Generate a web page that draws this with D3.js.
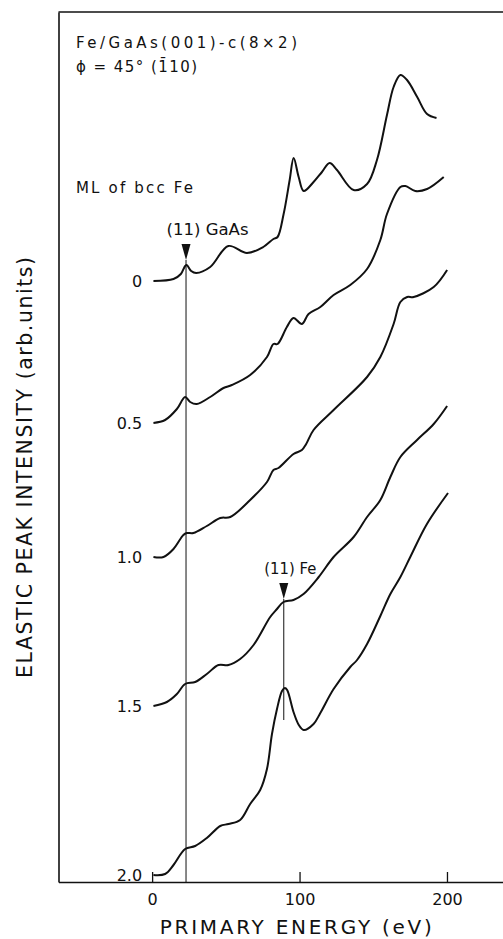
<!DOCTYPE html>
<html>
<head>
<meta charset="utf-8">
<script src="https://cdn.jsdelivr.net/npm/d3@7"></script>
<style>
  body { margin: 0; background: #fff; }
  text { font-family: "DejaVu Sans", sans-serif; fill: #111; }
</style>
</head>
<body>
<div id="chart"></div>
<script>
// elastic peak intensity vs primary energy (eV), curves already offset (arb. units)
var ml0 = [[0.9,60.1],[14.5,60.3],[19.5,60.8],[22.4,61.6],[23.5,61.7],[26.5,61.1],[29.9,60.9],[39.4,61.5],[51.7,63.6],[64.3,62.9],[75.4,63.5],[82.3,64.3],[85.1,64.5],[89.2,66.8],[93.3,70.2],[96.0,72.4],[99.4,70.5],[102.8,69.1],[109.5,70.0],[115.2,71.0],[120.4,71.9],[125.4,71.2],[136.7,69.2],[145.8,69.8],[152.5,72.2],[159.3,76.7],[163.8,79.5],[168.4,80.7],[172.9,80.2],[179.8,78.5],[186.5,76.8],[192.9,76.4]]
var ml05 = [[0.9,45.9],[8.8,46.2],[16.8,47.3],[22.4,48.5],[25.8,48.0],[30.3,47.8],[39.4,48.5],[48.4,49.4],[54.1,49.7],[66.5,50.7],[77.9,52.5],[82.3,53.8],[85.1,53.8],[91.4,55.5],[95.9,56.4],[101.6,55.8],[106.1,56.8],[114.1,57.5],[123.1,58.7],[134.4,59.7],[145.8,61.3],[154.8,64.2],[159.3,66.8],[168.4,69.5],[171.8,69.6],[178.5,69.1],[186.5,69.3],[197.8,70.5]]
var ml10 = [[0.9,32.5],[7.7,32.5],[14.5,33.3],[21.2,34.7],[23.5,34.9],[28.0,34.9],[37.1,35.6],[46.2,36.4],[53.0,36.5],[66.5,38.2],[77.9,40.0],[82.3,41.2],[85.7,41.4],[95.9,42.8],[101.6,43.2],[104.5,43.8],[109.5,45.2],[123.1,47.2],[145.8,50.5],[154.8,52.5],[163.8,55.8],[168.4,58.0],[173.0,58.5],[177.4,58.5],[191.0,59.5],[200.1,61.2]]
var ml15 = [[0.9,17.6],[10.0,18.0],[16.8,18.8],[22.4,19.8],[29.2,20.0],[37.1,20.8],[45.0,21.7],[51.8,21.7],[59.7,22.3],[68.8,23.7],[80.1,26.5],[84.7,27.3],[89.1,28.0],[95.9,28.2],[102.7,28.8],[113.0,30.5],[123.1,32.5],[136.7,34.5],[145.8,36.5],[154.8,38.2],[161.6,40.5],[168.4,42.5],[179.7,44.2],[191.0,45.8],[200.1,47.6]]
var ml20 = [[0.9,0.7],[8.8,0.8],[14.5,1.7],[22.4,3.3],[29.2,3.6],[37.1,4.4],[46.2,5.6],[51.8,5.8],[59.7,6.2],[66.5,7.8],[73.3,9.2],[77.9,11.3],[81.3,14.8],[84.7,17.3],[88.1,19.1],[90.0,19.4],[91.6,19.2],[95.9,17.0],[99.5,15.7],[102.8,15.2],[109.5,15.8],[114.1,16.9],[123.1,19.3],[134.4,21.5],[139.0,22.2],[145.8,23.8],[154.8,26.6],[161.6,28.8],[168.4,30.5],[175.1,32.5],[186.4,35.8],[200.7,38.9]]

var curves = [ml0, ml05, ml10, ml15, ml20]
var coverage = ["0", "0.5", "1.0", "1.5", "2.0"]
var xTicks = [0, 100, 200]

// (11) beam markers: energy, arrow tip, bottom end of the guide line
var markerLabels = ["(11) GaAs", "(11) Fe"]
var markerEnergy = [23, 89.3]
var markerTip = [62.2, 28.3]
var markerEnd = [0, 16.2]

var margin = {top: 12, right: 0, bottom: 57, left: 58.5}
var W = 503, H = 939
var width = W - margin.left - margin.right
var height = H - margin.top - margin.bottom

var svg = d3.select("#chart").append("svg")
    .attr("width", W)
    .attr("height", H)

var g = svg.append("g")
    .attr("transform", "translate(" + margin.left + "," + margin.top + ")")

var x = d3.scaleLinear().domain([-63.5, 238]).range([0, width])
var y = d3.scaleLinear().domain([0, 87]).range([height, 0])

// frame: bottom axis with inward ticks, left and top lines
var xAxis = g.append("g")
    .attr("transform", "translate(0," + height + ")")
    .call(d3.axisBottom(x).tickValues(xTicks).tickSizeInner(-10).tickSizeOuter(0).tickPadding(12))
xAxis.select(".domain").attr("stroke", "#111").attr("stroke-width", 1.6)
xAxis.selectAll(".tick line").attr("stroke", "#111").attr("stroke-width", 1.3)
xAxis.selectAll(".tick text")
    .style("font-family", "DejaVu Sans, sans-serif")
    .style("font-size", "16px")
    .attr("fill", "#111")

g.append("g")
    .call(d3.axisLeft(y).tickValues([]).tickSizeOuter(0))
    .select(".domain").attr("stroke", "#111").attr("stroke-width", 1.6)

g.append("line")
    .attr("x1", 0).attr("x2", width)
    .attr("y1", 0).attr("y2", 0)
    .attr("stroke", "#111").attr("stroke-width", 1.6)

// guide lines + arrow heads
markerEnergy.forEach(function(e, i){
  g.append("line")
      .attr("x1", x(e)).attr("x2", x(e))
      .attr("y1", y(markerTip[i])).attr("y2", y(markerEnd[i]))
      .attr("stroke", "#111").attr("stroke-width", 1)
  var tx = x(e), ty = y(markerTip[i])
  g.append("path")
      .attr("d", "M" + tx + "," + ty + "L" + (tx - 4.5) + "," + (ty - 16) + "L" + (tx + 4.5) + "," + (ty - 16) + "Z")
      .attr("fill", "#111")
  g.append("text")
      .attr("x", tx - 19.5)
      .attr("y", ty - 25)
      .attr("font-size", 15)
      .attr("textLength", i == 0 ? 82 : 52)
      .attr("lengthAdjust", "spacingAndGlyphs")
      .text(markerLabels[i])
})

var line = d3.line()
    .x(function(d){ return x(d[0]) })
    .y(function(d){ return y(d[1]) })
    .curve(d3.curveCatmullRom.alpha(0.5))

g.selectAll(".curve")
    .data(curves)
    .enter().append("path")
    .attr("class", "curve")
    .attr("d", line)
    .attr("fill", "none")
    .attr("stroke", "#111")
    .attr("stroke-width", 2)
    .attr("stroke-linejoin", "round")

g.selectAll(".cov")
    .data(curves)
    .enter().append("text")
    .attr("class", "cov")
    .attr("x", x(0) - 10)
    .attr("y", function(d){ return y(d[0][1]) })
    .attr("dy", "0.36em")
    .attr("text-anchor", "end")
    .attr("font-size", 16)
    .text(function(d, i){ return coverage[i] })

// header texts
svg.append("text").attr("x", 76).attr("y", 48.3).attr("font-size", 15)
    .attr("textLength", 221).attr("lengthAdjust", "spacing")
    .text("Fe/GaAs(001)-c(8\u00d72)")
svg.append("text").attr("x", 76).attr("y", 71.7).attr("font-size", 15)
    .attr("textLength", 121).attr("lengthAdjust", "spacing")
    .text("\u03d5 = 45\u00b0 (1\u030410)")
svg.append("text").attr("x", 76).attr("y", 193.3).attr("font-size", 15)
    .attr("textLength", 117).attr("lengthAdjust", "spacing")
    .text("ML of bcc Fe")

// axis titles
svg.append("text")
    .attr("x", 295.8).attr("y", 934)
    .attr("text-anchor", "middle")
    .attr("font-size", 20)
    .attr("textLength", 272).attr("lengthAdjust", "spacing")
    .text("PRIMARY ENERGY (eV)")
svg.append("text")
    .attr("transform", "translate(31.5,467.5) rotate(-90)")
    .attr("text-anchor", "middle")
    .attr("font-size", 20.5)
    .attr("textLength", 421).attr("lengthAdjust", "spacing")
    .text("ELASTIC PEAK INTENSITY (arb.units)")
</script>
</body>
</html>
